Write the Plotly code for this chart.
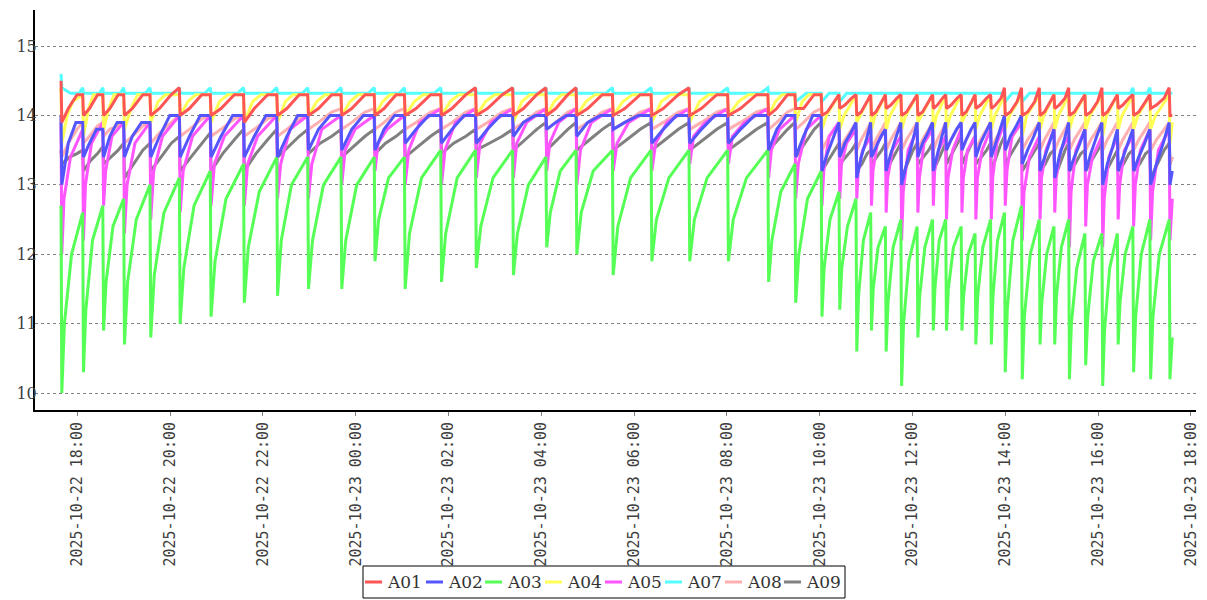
import plotly.graph_objects as go
from datetime import datetime, timedelta

# ---------------- data ----------------
cycle_start = [
    "2025-10-22 17:40", "2025-10-22 18:08", "2025-10-22 18:34", "2025-10-22 19:01",
    "2025-10-22 19:35", "2025-10-22 20:13", "2025-10-22 20:53", "2025-10-22 21:36",
    "2025-10-22 22:19", "2025-10-22 22:59", "2025-10-22 23:42", "2025-10-23 00:25",
    "2025-10-23 01:04", "2025-10-23 01:51", "2025-10-23 02:36", "2025-10-23 03:24",
    "2025-10-23 04:07", "2025-10-23 04:46", "2025-10-23 05:33", "2025-10-23 06:23",
    "2025-10-23 07:12", "2025-10-23 08:02", "2025-10-23 08:54", "2025-10-23 09:29",
    "2025-10-23 10:03", "2025-10-23 10:26", "2025-10-23 10:48", "2025-10-23 11:07",
    "2025-10-23 11:26", "2025-10-23 11:46", "2025-10-23 12:07", "2025-10-23 12:27",
    "2025-10-23 12:44", "2025-10-23 13:04", "2025-10-23 13:22", "2025-10-23 13:42",
    "2025-10-23 14:00", "2025-10-23 14:22", "2025-10-23 14:45", "2025-10-23 15:04",
    "2025-10-23 15:23", "2025-10-23 15:44", "2025-10-23 16:06", "2025-10-23 16:26",
    "2025-10-23 16:46", "2025-10-23 17:08", "2025-10-23 17:33",
]
t_first = "2025-10-22 17:39"
t_last = "2025-10-23 17:36"

series_names = ["A01", "A02", "A03", "A04", "A05", "A07", "A08", "A09"]
series_colors = ["#FF5555", "#5555FF", "#55FF55", "#FFFF55", "#FF55FF", "#55FFFF", "#FFAFAF", "#808080"]

# A01
A01_first = 14.5
A01_lo = [13.9, 14.0, 14.0, 14.0, 14.0, 14.0, 14.0, 13.9, 14.0, 14.0,
          14.0, 14.0, 14.0, 14.0, 14.0, 14.0, 14.0, 14.0, 14.0, 14.0,
          14.0, 14.0, 14.0, 14.1, 14.0, 14.1, 14.0, 14.0, 14.1, 14.0,
          14.0, 14.1, 14.1, 14.0, 14.1, 14.1, 14.0, 14.0, 14.0, 14.1,
          14.0, 14.0, 14.0, 14.1, 14.0, 14.1, 14.0]
A01_a = [14.1, 14.1, 14.1, 14.1, 14.1, 14.1, 14.1, 14.1, 14.1, 14.1, 14.1, 14.1,
         14.1, 14.1, 14.1, 14.1, 14.1, 14.1, 14.1, 14.1, 14.1, 14.1, 14.1, 14.1,
         14.05, 14.15, 14.05, 14.05, 14.15, 14.05, 14.05, 14.15, 14.15, 14.05, 14.15,
         14.15, 14.05, 14.05, 14.05, 14.15, 14.05, 14.05, 14.05, 14.15, 14.05, 14.15]
A01_b = [14.3, 14.3, 14.3, 14.3, 14.3, 14.3, 14.3, 14.3, 14.3, 14.3, 14.3, 14.3,
         14.3, 14.3, 14.3, 14.3, 14.3, 14.3, 14.3, 14.3, 14.3, 14.3, 14.3, 14.3,
         14.2, 14.25, 14.2, 14.2, 14.25, 14.2, 14.2, 14.25, 14.25, 14.2, 14.25,
         14.25, 14.2, 14.2, 14.2, 14.25, 14.2, 14.2, 14.2, 14.25, 14.2, 14.25]
A01_end = [14.3, 14.3, 14.3, 14.3, 14.4, 14.3, 14.3, 14.3, 14.3, 14.3, 14.3, 14.3,
           14.3, 14.4, 14.4, 14.4, 14.4, 14.3, 14.3, 14.4, 14.3, 14.3, 14.3, 14.3,
           14.3, 14.3, 14.3, 14.3, 14.3, 14.3, 14.3, 14.3, 14.3, 14.3, 14.3,
           14.4, 14.4, 14.4, 14.3, 14.4, 14.3, 14.4, 14.3, 14.3, 14.3, 14.4]
A01_last = 14.0

# A02
A02_first = 14.0
A02_lo = [13.0, 13.4, 13.4, 13.4, 13.4, 13.4, 13.4, 13.4, 13.4, 13.5,
          13.5, 13.5, 13.6, 13.6, 13.6, 13.7, 13.8, 13.7, 13.8, 13.6,
          13.6, 13.6, 13.5, 13.4, 13.2, 13.4, 13.1, 13.4, 13.2, 13.0,
          13.4, 13.2, 13.5, 13.5, 13.4, 13.4, 13.5, 13.3, 13.2, 13.1,
          13.2, 13.2, 13.0, 13.2, 13.2, 13.0, 13.0]
A02_a = [13.6, 13.6, 13.7, 13.7, 13.7, 13.7, 13.7, 13.7, 13.7, 13.8, 13.8, 13.8,
         13.8, 13.8, 13.8, 13.9, 13.9, 13.9, 13.9, 13.8, 13.8, 13.8, 13.8, 13.7,
         13.45, 13.6, 13.4, 13.55, 13.45, 13.3, 13.6, 13.45, 13.65, 13.65, 13.6,
         13.6, 13.7, 13.5, 13.4, 13.4, 13.4, 13.45, 13.3, 13.4, 13.4, 13.3]
A02_b = [13.9, 13.8, 13.9, 13.9, 14.0, 14.0, 14.0, 14.0, 14.0, 14.0, 14.0, 14.0,
         14.0, 14.0, 14.0, 14.0, 14.0, 14.0, 14.0, 14.0, 14.0, 14.0, 14.0, 14.0,
         13.7, 13.75, 13.65, 13.7, 13.7, 13.6, 13.75, 13.7, 13.8, 13.8, 13.75,
         13.8, 13.85, 13.7, 13.6, 13.65, 13.6, 13.7, 13.55, 13.6, 13.6, 13.6]
A02_end = [13.9, 13.8, 13.9, 13.9, 14.0, 14.0, 14.0, 14.0, 14.0, 14.0, 14.0, 14.0,
           14.0, 14.0, 14.0, 14.0, 14.0, 14.0, 14.0, 14.0, 14.0, 14.0, 14.0, 14.0,
           13.9, 13.9, 13.9, 13.8, 13.9, 13.9, 13.9, 13.9, 13.9, 13.9, 13.9,
           14.0, 14.0, 13.9, 13.8, 13.9, 13.8, 13.9, 13.8, 13.8, 13.8, 13.9]
A02_last = 13.2

# A03
A03_first = 12.7
A03_lo = [10.0, 10.3, 10.9, 10.7, 10.8, 11.0, 11.1, 11.3, 11.4, 11.5,
          11.5, 11.9, 11.5, 11.6, 11.8, 11.7, 12.1, 12.0, 11.7, 11.9,
          11.9, 11.9, 11.6, 11.3, 11.1, 11.2, 10.6, 10.9, 10.6, 10.1,
          10.8, 10.9, 10.9, 10.9, 10.7, 10.7, 10.3, 10.2, 10.7, 10.7,
          10.2, 10.4, 10.1, 10.7, 10.3, 10.2, 10.2]
A03_a = [11.0, 11.2, 11.6, 11.6, 11.7, 11.8, 11.9, 12.1, 12.2, 12.2,
         12.2, 12.5, 12.3, 12.3, 12.4, 12.3, 12.6, 12.6, 12.4, 12.5,
         12.5, 12.5, 12.2, 12.0, 11.8, 11.8, 11.4, 11.5, 11.3, 11.0,
         11.4, 11.5, 11.5, 11.4, 11.4, 11.4, 11.2, 11.1, 11.3, 11.4,
         11.0, 11.1, 10.9, 11.3, 11.1, 11.1]
A03_b = [12.0, 12.2, 12.4, 12.5, 12.6, 12.7, 12.8, 12.9, 13.0, 13.0,
         13.0, 13.1, 13.1, 13.1, 13.1, 13.0, 13.2, 13.2, 13.1, 13.1,
         13.1, 13.1, 12.9, 12.8, 12.5, 12.4, 12.2, 12.1, 12.1, 11.9,
         12.1, 12.2, 12.1, 12.0, 12.1, 12.2, 12.2, 12.0, 12.0, 12.1,
         11.8, 11.9, 11.8, 12.0, 12.0, 12.0]
A03_end = [12.6, 12.7, 12.8, 13.0, 13.1, 13.2, 13.3, 13.4, 13.4, 13.4,
           13.4, 13.4, 13.5, 13.5, 13.5, 13.4, 13.5, 13.5, 13.5, 13.5,
           13.5, 13.5, 13.3, 13.2, 12.9, 12.8, 12.6, 12.4, 12.5, 12.4,
           12.5, 12.5, 12.4, 12.3, 12.5, 12.6, 12.7, 12.5, 12.4, 12.5,
           12.3, 12.3, 12.3, 12.4, 12.5, 12.5]
A03_last = 10.8

# A04
A04_first = 14.4
A04_lo = [13.6, 13.7, 13.8, 13.8, 13.9, 14.0, 13.9, 13.9, 13.9, 14.0, 14.0, 14.0,
          14.0, 14.0, 14.0, 13.9, 14.0, 14.0, 14.0, 13.9, 13.9, 14.0, 14.0, 13.9,
          13.8, 13.8, 13.9, 13.8, 13.8, 13.8, 13.9, 13.8, 13.8, 13.9, 13.8, 13.8,
          13.8, 13.7, 13.8, 13.8, 13.8, 13.8, 13.7, 13.8, 13.8, 13.8, 13.6]
A04_a = [14.0, 14.1, 14.1, 14.1, 14.2, 14.2, 14.2, 14.2, 14.2, 14.2, 14.2, 14.2,
         14.2, 14.2, 14.2, 14.2, 14.2, 14.2, 14.2, 14.2, 14.2, 14.2, 14.2, 14.2,
         14.0, 14.0, 14.0, 14.0, 14.0, 14.0, 14.0, 14.0, 14.0, 14.0, 14.0,
         14.0, 14.0, 14.0, 14.0, 14.0, 14.0, 14.0, 14.0, 14.0, 14.0, 14.0]
A04_b = [14.2, 14.3, 14.3, 14.3, 14.3, 14.3, 14.3, 14.3, 14.3, 14.3, 14.3, 14.3,
         14.3, 14.3, 14.3, 14.3, 14.3, 14.3, 14.3, 14.3, 14.3, 14.3, 14.3, 14.3,
         14.1, 14.1, 14.1, 14.1, 14.1, 14.1, 14.1, 14.1, 14.1, 14.1, 14.1,
         14.1, 14.1, 14.1, 14.1, 14.1, 14.1, 14.1, 14.1, 14.1, 14.1, 14.1]
A04_end = [14.3, 14.3, 14.3, 14.3, 14.3, 14.3, 14.3, 14.3, 14.3, 14.3, 14.3, 14.3,
           14.3, 14.3, 14.3, 14.3, 14.3, 14.3, 14.3, 14.3, 14.3, 14.3, 14.3, 14.3,
           14.3, 14.3, 14.3, 14.3, 14.3, 14.3, 14.3, 14.3, 14.3, 14.3, 14.3,
           14.3, 14.3, 14.3, 14.3, 14.3, 14.3, 14.3, 14.3, 14.3, 14.3, 14.3]
A04_last = 13.9

# A05
A05_first = 13.9
A05_lo = [12.0, 12.2, 12.7, 12.3, 12.5, 12.6, 12.7, 12.7, 12.8, 12.8,
          13.0, 13.2, 13.0, 13.0, 13.1, 13.1, 13.2, 13.0, 13.2, 13.2,
          13.3, 13.3, 13.1, 12.8, 12.7, 12.8, 12.8, 12.7, 12.6, 12.2,
          12.6, 12.7, 12.5, 12.6, 12.5, 12.5, 12.7, 12.2, 12.5, 12.6,
          12.1, 12.4, 12.1, 12.5, 12.4, 12.2, 12.2]
A05_a = [12.8, 13.0, 13.2, 13.0, 13.2, 13.2, 13.3, 13.3, 13.3, 13.3, 13.5, 13.6,
         13.5, 13.5, 13.6, 13.6, 13.6, 13.5, 13.6, 13.6, 13.7, 13.7, 13.5, 13.3,
         13.2, 13.3, 13.2, 13.2, 13.1, 12.9, 13.1, 13.2, 13.1, 13.1, 13.1,
         13.1, 13.2, 12.9, 13.1, 13.1, 12.9, 13.0, 12.8, 13.0, 13.0, 12.9]
A05_b = [13.4, 13.6, 13.7, 13.6, 13.7, 13.7, 13.7, 13.7, 13.8, 13.8, 13.8, 13.8,
         13.9, 13.9, 13.9, 13.9, 13.9, 13.9, 13.9, 13.9, 13.9, 13.9, 13.8, 13.8,
         13.7, 13.6, 13.5, 13.6, 13.5, 13.5, 13.6, 13.5, 13.5, 13.5, 13.5,
         13.6, 13.7, 13.4, 13.5, 13.5, 13.5, 13.4, 13.4, 13.5, 13.5, 13.5]
A05_end = [13.8, 13.9, 13.9, 13.9, 14.0, 14.0, 14.0, 14.0, 14.0, 14.0, 14.0, 14.0,
           14.1, 14.1, 14.1, 14.1, 14.1, 14.1, 14.1, 14.1, 14.1, 14.1, 14.0, 14.0,
           13.9, 13.8, 13.7, 13.8, 13.7, 13.8, 13.8, 13.7, 13.8, 13.7, 13.8,
           13.9, 13.9, 13.7, 13.8, 13.7, 13.8, 13.7, 13.7, 13.7, 13.8, 13.8]
A05_last = 12.8

# A07
A07_first = 14.6
A07_lo = [14.4, 14.32, 14.32, 14.32, 14.32, 14.32, 14.32, 14.32, 14.32, 14.32, 14.32,
          14.32, 14.32, 14.32, 14.32, 14.32, 14.32, 14.32, 14.32, 14.32, 14.32, 14.32,
          14.32, 14.2, 14.2, 14.2, 14.32, 14.32, 14.32, 14.32, 14.32, 14.32, 14.32,
          14.32, 14.32, 14.32, 14.2, 14.2, 14.32, 14.32, 14.32, 14.32, 14.32, 14.32,
          14.32, 14.32, 14.32]
A07_a = [14.32, 14.32, 14.32, 14.32, 14.32, 14.32, 14.32, 14.32, 14.32, 14.32, 14.32, 14.32,
         14.32, 14.32, 14.32, 14.32, 14.32, 14.32, 14.32, 14.32, 14.32, 14.32, 14.32, 14.32,
         14.32, 14.32, 14.32, 14.32, 14.32, 14.32, 14.32, 14.32, 14.32, 14.32, 14.32,
         14.32, 14.32, 14.32, 14.32, 14.32, 14.32, 14.32, 14.32, 14.32, 14.32, 14.32]
A07_b = [14.32, 14.32, 14.32, 14.32, 14.32, 14.32, 14.32, 14.32, 14.32, 14.32, 14.32, 14.32,
         14.32, 14.32, 14.32, 14.32, 14.32, 14.32, 14.32, 14.32, 14.32, 14.32, 14.32, 14.32,
         14.32, 14.32, 14.32, 14.32, 14.32, 14.32, 14.32, 14.32, 14.32, 14.32, 14.32,
         14.32, 14.32, 14.32, 14.32, 14.32, 14.32, 14.32, 14.32, 14.32, 14.32, 14.32]
A07_end = [14.4, 14.4, 14.4, 14.4, 14.4, 14.4, 14.4, 14.4, 14.4, 14.4, 14.4,
           14.4, 14.4, 14.4, 14.4, 14.4, 14.4, 14.4, 14.4, 14.4, 14.4, 14.4,
           14.32, 14.32, 14.32, 14.32, 14.32, 14.32, 14.32, 14.32, 14.32, 14.32, 14.32,
           14.32, 14.32, 14.32, 14.32, 14.32, 14.32, 14.32, 14.32, 14.32, 14.32,
           14.4, 14.4, 14.32]
A07_last = 14.32

# A08
A08_first = 14.0
A08_lo = [13.4, 13.6, 13.7, 13.6, 13.6, 13.7, 13.7, 13.7, 13.7,
          13.8, 13.8, 13.8, 13.8, 13.8, 13.8, 13.8, 13.8, 13.8, 13.8, 13.8, 13.8, 13.8, 13.8, 13.8,
          13.5, 13.5, 13.5, 13.5, 13.5, 13.5, 13.5, 13.5, 13.5, 13.5, 13.5,
          13.5, 13.5, 13.5, 13.5, 13.5, 13.5, 13.5, 13.5, 13.5, 13.5, 13.5, 13.3]
A08_a = [13.6, 13.7, 13.8, 13.7, 13.75, 13.8, 13.8, 13.8, 13.8,
         13.9, 13.9, 13.9, 13.9, 13.9, 13.9, 13.9, 13.9, 13.9, 13.9, 13.9, 13.9, 13.9, 13.9, 13.9,
         13.65, 13.65, 13.65, 13.65, 13.65, 13.65, 13.65, 13.65, 13.65, 13.65, 13.65,
         13.65, 13.65, 13.65, 13.65, 13.65, 13.65, 13.65, 13.65, 13.65, 13.65, 13.65]
A08_b = [13.8, 13.85, 13.85, 13.85, 13.9, 13.95, 13.95, 13.95, 13.95,
         14.05, 14.05, 14.05, 14.05, 14.05, 14.05, 14.05, 14.05, 14.05, 14.05, 14.05, 14.05, 14.05, 14.05, 14.05,
         13.8, 13.8, 13.8, 13.8, 13.8, 13.8, 13.8, 13.8, 13.8, 13.8, 13.8,
         13.8, 13.8, 13.8, 13.8, 13.8, 13.8, 13.8, 13.8, 13.8, 13.8, 13.8]
A08_end = [13.9, 13.9, 13.9, 13.9, 14.0, 14.0, 14.0, 14.0, 14.0,
           14.1, 14.1, 14.1, 14.1, 14.1, 14.1, 14.1, 14.1, 14.1, 14.1, 14.1, 14.1, 14.1, 14.1, 14.1,
           13.9, 13.9, 13.9, 13.9, 13.9, 13.9, 13.9, 13.9, 13.9, 13.9, 13.9,
           13.9, 13.9, 13.9, 13.9, 13.9, 13.9, 13.9, 13.9, 13.9, 13.9, 13.9]
A08_last = 13.4

# A09
A09_first = 13.5
A09_lo = [13.3, 13.2, 13.3, 13.1, 13.2, 13.2, 13.2, 13.2, 13.4,
          13.45, 13.4, 13.45, 13.4, 13.45, 13.5,
          13.5, 13.5, 13.5, 13.5, 13.5, 13.5, 13.5, 13.5, 13.4,
          13.2, 13.3, 13.2, 13.3, 13.2, 13.1, 13.3, 13.2, 13.3, 13.3, 13.3,
          13.2, 13.3, 13.2, 13.2, 13.1, 13.2, 13.2, 13.1, 13.2, 13.2, 13.1, 13.3]
A09_a = [13.4, 13.35, 13.4, 13.3, 13.4, 13.4, 13.45, 13.45, 13.55,
         13.6, 13.55, 13.6, 13.55, 13.6, 13.6,
         13.65, 13.65, 13.65, 13.65, 13.65, 13.65, 13.65, 13.65, 13.6,
         13.35, 13.4, 13.3, 13.4, 13.35, 13.3, 13.4, 13.35, 13.45, 13.45, 13.4,
         13.4, 13.45, 13.35, 13.3, 13.3, 13.3, 13.35, 13.25, 13.3, 13.3, 13.3]
A09_b = [13.45, 13.45, 13.5, 13.5, 13.6, 13.6, 13.65, 13.65, 13.7,
         13.7, 13.7, 13.7, 13.7, 13.7, 13.7,
         13.8, 13.8, 13.8, 13.8, 13.8, 13.8, 13.8, 13.8, 13.8,
         13.5, 13.5, 13.45, 13.5, 13.5, 13.5, 13.5, 13.5, 13.6, 13.6, 13.5,
         13.6, 13.6, 13.5, 13.45, 13.5, 13.45, 13.5, 13.4, 13.45, 13.45, 13.5]
A09_end = [13.5, 13.55, 13.6, 13.6, 13.7, 13.75, 13.8, 13.8, 13.8,
           13.8, 13.8, 13.8, 13.8, 13.8, 13.8,
           13.9, 13.9, 13.9, 13.9, 13.9, 13.9, 13.9, 13.9, 13.9,
           13.6, 13.6, 13.5, 13.6, 13.6, 13.6, 13.6, 13.6, 13.7, 13.7, 13.6,
           13.7, 13.7, 13.6, 13.5, 13.6, 13.5, 13.6, 13.5, 13.5, 13.5, 13.6]
A09_last = 13.4

series_data = {
    "A01": (A01_first, A01_lo, A01_a, A01_b, A01_end, A01_last),
    "A02": (A02_first, A02_lo, A02_a, A02_b, A02_end, A02_last),
    "A03": (A03_first, A03_lo, A03_a, A03_b, A03_end, A03_last),
    "A04": (A04_first, A04_lo, A04_a, A04_b, A04_end, A04_last),
    "A05": (A05_first, A05_lo, A05_a, A05_b, A05_end, A05_last),
    "A07": (A07_first, A07_lo, A07_a, A07_b, A07_end, A07_last),
    "A08": (A08_first, A08_lo, A08_a, A08_b, A08_end, A08_last),
    "A09": (A09_first, A09_lo, A09_a, A09_b, A09_end, A09_last),
}

# where inside each cycle the two intermediate readings sit (shape of the tooth)
tooth_pos = {"A01": (0.3, 0.7), "A02": (0.3, 0.65), "A03": (0.12, 0.45), "A04": (0.25, 0.5),
             "A05": (0.1, 0.4), "A07": (0.4, 0.8), "A08": (0.3, 0.7), "A09": (0.35, 0.7)}


def build(name):
    first, lo, a, b, end, last = series_data[name]
    n = len(cycle_start)
    assert len(lo) == n, (name, "lo", len(lo))
    assert len(a) == n - 1 and len(b) == n - 1 and len(end) == n - 1, (name, len(a), len(b), len(end))
    fa, fb = tooth_pos[name]
    ts = [datetime.fromisoformat(s) for s in cycle_start]
    xs = [datetime.fromisoformat(t_first)]
    ys = [first]
    for i in range(n - 1):
        t0, t1 = ts[i], ts[i + 1]
        L = t1 - t0
        xs += [t0, t0 + L * fa, t0 + L * fb, t1 - timedelta(minutes=1)]
        ys += [lo[i], a[i], b[i], end[i]]
    xs += [ts[-1], datetime.fromisoformat(t_last)]
    ys += [lo[-1], last]
    return xs, ys


fig = go.Figure()
# first series is painted last (on top)
for name, color in reversed(list(zip(series_names, series_colors))):
    xs, ys = build(name)
    fig.add_trace(go.Scatter(x=xs, y=ys, mode="lines", name=name,
                             line=dict(color=color, width=3), showlegend=False))

# ---------------- layout ----------------
# the page body has an 8px margin, so the figure sits at (8, 8) in the window
OFF = 8
W, H = 1207 - OFF, 600 - OFF
ML, MT = 35 - OFF, 10 - OFF
PLOT_R, PLOT_B = 1196 - OFF, 410 - OFF
MR, MB = W - PLOT_R, H - PLOT_B
PW, PH = W - ML - MR, H - MT - MB


def px_x(px):
    return (px - OFF - ML) / PW


def px_y(py):
    return (PLOT_B - (py - OFF)) / PH


fig.update_layout(
    width=W, height=H,
    margin=dict(l=ML, r=MR, t=MT, b=MB, autoexpand=False),
    paper_bgcolor="white", plot_bgcolor="white",
    showlegend=False,
    xaxis=dict(
        type="date",
        range=["2025-10-22 17:05:20", "2025-10-23 18:06:40"],
        tick0="2025-10-22 18:00", dtick=2 * 3600 * 1000,
        tickformat="%Y-%m-%d %H:%M", tickangle=-90,
        tickfont=dict(family="DejaVu Sans Mono", size=15, color="#404040"),
        showline=True, linecolor="black", linewidth=2,
        ticks="outside", ticklen=4, tickcolor="#808080", tickwidth=1,
        showgrid=False, zeroline=False, automargin=False,
    ),
    yaxis=dict(
        range=[9.755, 15.52], tick0=10, dtick=1,
        tickfont=dict(family="DejaVu Serif", size=16, color="#404040"),
        showline=True, linecolor="black", linewidth=2,
        ticks="", ticklabelstandoff=-7,
        showgrid=True, gridcolor="#808080", gridwidth=1, griddash="dot",
        zeroline=False, automargin=False,
    ),
)

# ---------------- legend (boxed, bottom centre) ----------------
shapes = [dict(type="rect", xref="paper", yref="paper",
               x0=px_x(363), x1=px_x(845), y0=px_y(598), y1=px_y(566),
               line=dict(color="black", width=1), fillcolor="white", layer="above")]
annotations = []
item_x = [365, 426, 485, 545, 605, 665, 725, 784]
for name, color, x0 in zip(series_names, series_colors, item_x):
    shapes.append(dict(type="line", xref="paper", yref="paper",
                       x0=px_x(x0), x1=px_x(x0 + 17), y0=px_y(582), y1=px_y(582),
                       line=dict(color=color, width=3), layer="above"))
    annotations.append(dict(text=name, xref="paper", yref="paper",
                            x=px_x(x0 + 20), y=px_y(582), xanchor="left", yanchor="middle",
                            showarrow=False,
                            font=dict(family="DejaVu Serif", size=17, color="#333333")))
fig.update_layout(shapes=shapes, annotations=annotations)

fig.write_html("out.html")
